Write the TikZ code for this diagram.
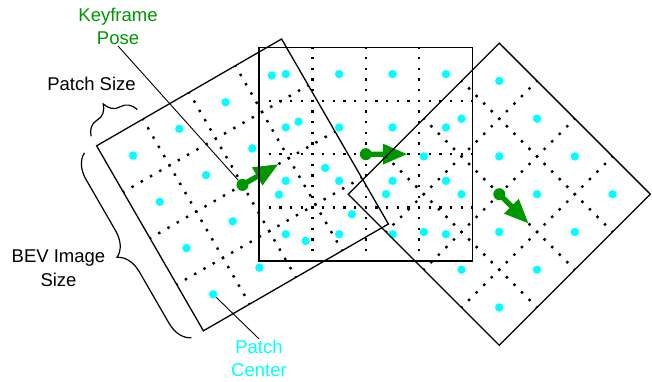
\documentclass[tikz,border=0pt]{standalone}
\usepackage{fontspec}
\setmainfont{Liberation Sans}
\usetikzlibrary{decorations.pathreplacing}
\definecolor{posegreen}{RGB}{0,150,0}
\definecolor{patchcyan}{RGB}{0,255,255}
\tikzset{
  gridline/.style={line width=2.4pt, dash pattern=on 2.4pt off 8.28pt, dash phase=1.2pt},
  border/.style={line width=1.3pt, line join=miter},
  patchdot/.style={circle, fill=patchcyan, inner sep=0pt, minimum size=8.4pt},
  posedot/.style={circle, fill=posegreen, inner sep=0pt, minimum size=12pt},
  posehead/.style={fill=posegreen},
  txt/.style={font=\fontsize{18.5}{23.5}\selectfont, align=center, inner sep=1pt},
  leader/.style={line width=0.9pt},
  bracestyle/.style={line width=1.2pt, decorate},
}
\newcommand\patchgrid[1]{%
  \foreach \t in {-53.4,0,53.4} {
    \draw[gridline] (\t,-106.8) -- (\t,106.8);
    \draw[gridline] (-106.8,\t) -- (106.8,\t);
  }
  \draw[border] (-106.8,-106.8) rectangle (106.8,106.8);
  \foreach \a [count=\i] in {-80.1,-26.7,26.7,80.1}
    \foreach \b [count=\j] in {-80.1,-26.7,26.7,80.1}
      \node[patchdot] (#1\i\j) at (\a,\b) {};
  \node[posedot] (#1p) at (0,0) {};
  \fill[posehead] (0,-2.6) -- (17,-2.6) -- (17,-10.5) -- (41,0) -- (17,10.5) -- (17,2.6) -- (0,2.6) -- cycle;
}
\begin{document}
\begin{tikzpicture}[x=1pt, y=-1pt]
\useasboundingbox (0,0) rectangle (652,381);
% left square, rotated 30 degrees
\begin{scope}[shift={(242.5,184.9)}, rotate=30]
  \patchgrid{L}
  \draw[bracestyle, decoration={brace, amplitude=22pt, raise=11pt}] (-106.8,-106.8) -- (-53.4,-106.8);
  \draw[bracestyle, decoration={brace, amplitude=24pt, raise=14pt}] (-106.8,106.8) -- (-106.8,-106.8);
\end{scope}
% middle square
\begin{scope}[shift={(365.85,154.15)}]
  \patchgrid{M}
\end{scope}
% right square, rotated -45 degrees
\begin{scope}[shift={(499.3,194.2)}, rotate=-45]
  \patchgrid{R}
\end{scope}
% labels
\node[txt, text=posegreen] (kp) at (118,26.2) {Keyframe\\Pose};
\node[txt, anchor=base] (ps) at (91.5,90.7) {Patch Size};
\node[txt] (bev) at (58.5,268) {BEV Image\\Size};
\node[txt, text=patchcyan] (pc) at (259,358.6) {Patch\\Center};
\draw[leader] (kp.south) -- (Lp);
\draw[leader] (pc.north) -- (L14);
\end{tikzpicture}
\end{document}
